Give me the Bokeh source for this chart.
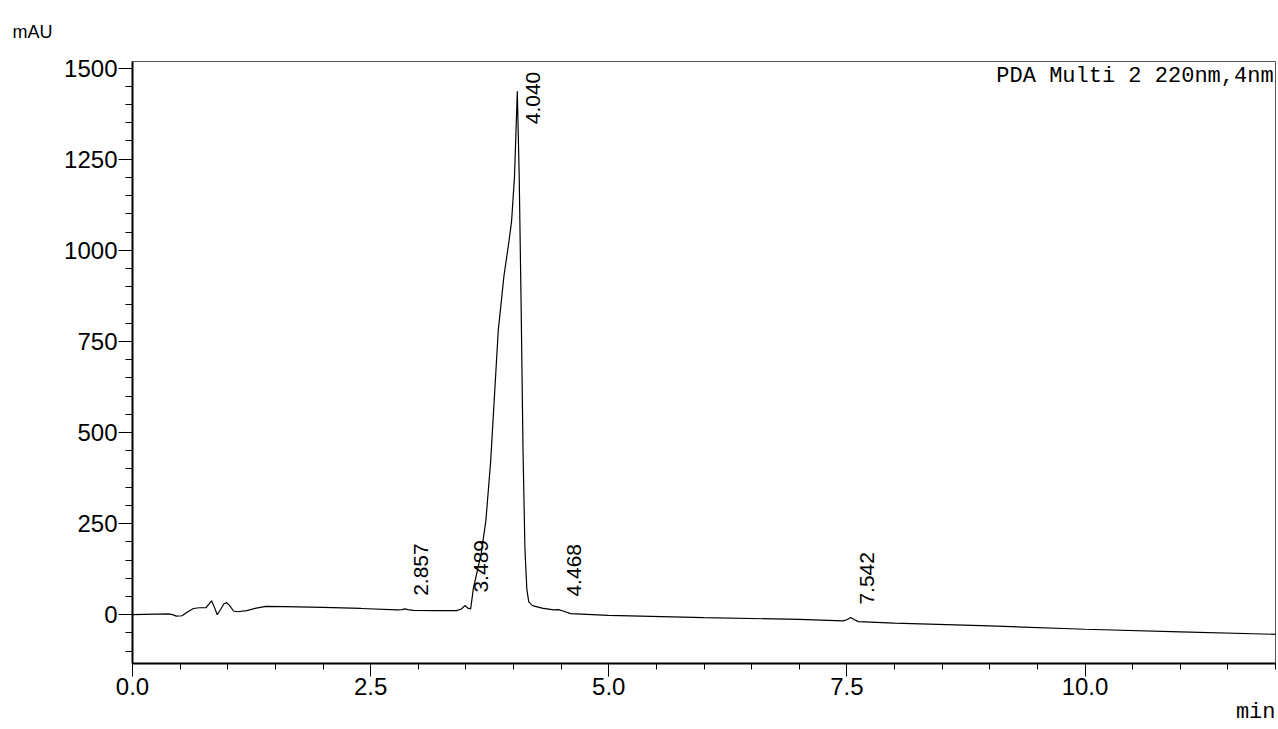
import math
from bokeh.plotting import figure
from bokeh.models import (Range1d, SingleIntervalTicker, NumeralTickFormatter,
                          ColumnDataSource, Label, Title)
from bokeh.core.properties import value
from bokeh.embed import file_html
from bokeh.resources import INLINE

# ---- data ----
time_min = [0.00, 0.38, 0.42, 0.46, 0.52, 0.58, 0.64, 0.70, 0.77, 0.80, 0.83, 0.86,
            0.89, 0.92, 0.96, 0.99, 1.02, 1.06, 1.10, 1.20, 1.30, 1.40, 1.60, 2.00,
            2.40, 2.78, 2.83, 2.86, 2.89, 2.95, 3.20, 3.40, 3.45, 3.49, 3.52, 3.55,
            3.58, 3.62, 3.66, 3.71, 3.76, 3.80, 3.84, 3.90, 3.95, 3.98, 4.01, 4.04,
            4.06, 4.08, 4.10, 4.12, 4.14, 4.16, 4.20, 4.30, 4.42, 4.47, 4.52, 4.60,
            5.00, 6.00, 7.00, 7.46, 7.50, 7.54, 7.58, 7.62, 8.00, 9.00, 10.00, 11.00,
            12.00]
signal_mau = [0, 2, 0, -4, -3, 8, 17, 19, 19, 28, 38, 20,
              0, 12, 30, 33, 25, 10, 8, 11, 18, 23, 22, 20,
              17, 13, 14, 16, 14, 12, 11, 11, 15, 25, 18, 16,
              74, 120, 167, 258, 420, 600, 780, 930, 1020, 1080, 1200, 1436,
              1200, 850, 450, 180, 70, 35, 25, 18, 13, 14, 10, 3,
              -2, -8, -13, -17, -14, -8, -14, -19, -23, -31, -40, -47,
              -54]

peak_times = [2.857, 3.489, 4.040, 4.468, 7.542]
peak_heights = [16, 25, 1436, 14, -8]
peak_labels = ["2.857", "3.489", "4.040", "4.468", "7.542"]

W, H = 1278, 729

p = figure(width=W, height=H, output_backend="svg", toolbar_location=None,
           x_range=Range1d(0, 12), y_range=Range1d(-134, 1518),
           min_border_left=132, min_border_right=3, min_border_top=60,
           min_border_bottom=66)
p.grid.visible = False
p.background_fill_color = "white"
p.border_fill_color = "white"
p.outline_line_color = "#555555"
p.outline_line_width = 1

# y-axis unit as the title (top-left)
p.title.text = "mAU"
p.title.align = "left"
p.title.offset = -120
p.title.standoff = 39
p.title.text_font = "Liberation Sans"
p.title.text_font_size = "18px"
p.title.text_font_style = "normal"
p.title.text_color = "black"

p.line(time_min, signal_mau, line_color="black", line_width=1.2)

# peak labels (rotated)
label_y = [min(h, 1310) for h in peak_heights]
src = ColumnDataSource(dict(x=peak_times, y=label_y, t=peak_labels))
p.text(x="x", y="y", text="t", source=src, angle=math.pi / 2,
       text_align="left", text_baseline="middle", x_offset=16, y_offset=-13,
       text_font=value("Liberation Sans"), text_font_size="21px", text_color="black")

# axes
xa = p.xaxis[0]
xa.ticker = SingleIntervalTicker(interval=2.5, num_minor_ticks=5)
xa.formatter = NumeralTickFormatter(format="0.0")
ya = p.yaxis[0]
ya.ticker = SingleIntervalTicker(interval=250, num_minor_ticks=5)
for ax in (xa, ya):
    ax.axis_line_color = "black"
    ax.axis_line_width = 2
    ax.major_tick_line_color = "black"
    ax.minor_tick_line_color = "black"
    ax.major_tick_line_width = 1
    ax.minor_tick_line_width = 1
    ax.major_tick_in = 0
    ax.minor_tick_in = 0
    ax.major_label_text_font = "Liberation Sans"
    ax.major_label_text_font_size = "24px"
    ax.major_label_text_color = "black"
xa.major_tick_out = 13
xa.minor_tick_out = 6
xa.major_label_standoff = 1
ya.major_tick_out = 14
ya.minor_tick_out = 7
ya.major_label_standoff = 1

# x-axis unit (bottom-right)
p.add_layout(Title(text="min", align="right", standoff=0,
                   text_font="Liberation Mono", text_font_size="22px",
                   text_font_style="normal", text_color="black"), "below")

# detector label inside the frame
p.add_layout(Label(x=11.98, y=1510, text="PDA Multi 2 220nm,4nm",
                   text_align="right", text_baseline="top",
                   text_font="Liberation Mono", text_font_size="22px",
                   text_color="black"))

open("out.html", "w").write(file_html(p, INLINE))
